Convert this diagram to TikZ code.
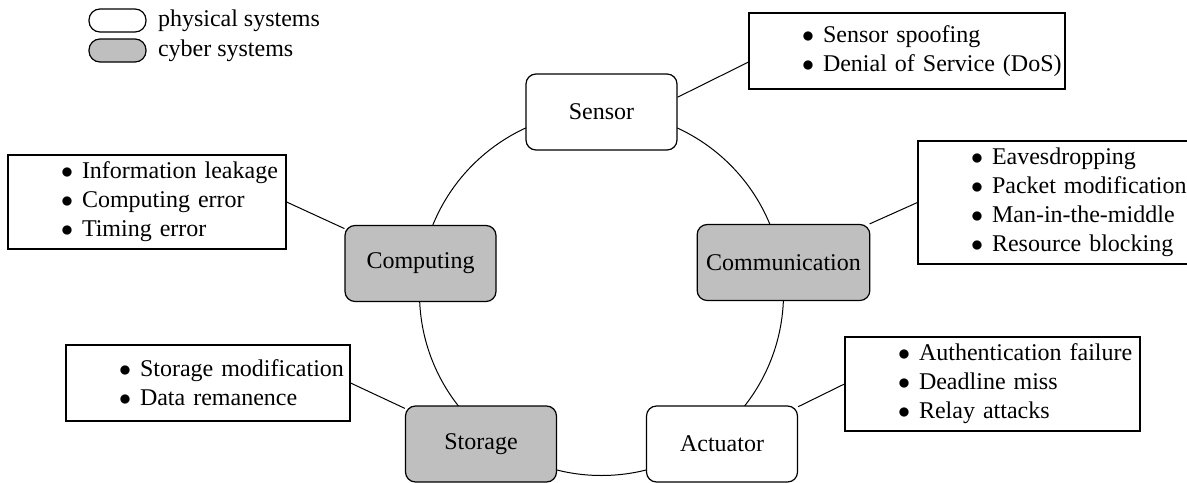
\documentclass[tikz,border=0pt]{standalone}
\usepackage{fontspec}
\setmainfont{Liberation Serif}
\definecolor{cyber}{RGB}{191,191,191}
\tikzset{
  sys/.style={draw, line width=0.6pt, rounded corners=5pt, minimum width=75.5pt,
    minimum height=38pt, inner xsep=4.5pt, font=\fontsize{12}{14.5}\selectfont},
  phys/.style={sys, fill=white},
  cyb/.style={sys, fill=cyber},
  lbox/.style={draw, line width=0.6pt, fill=white, inner xsep=0pt, inner ysep=3.5pt,
    minimum height=38pt, align=left, font=\fontsize{12}{14.5}\selectfont},
  link/.style={line width=0.5pt},
  legendkey/.style={draw, line width=0.6pt, rounded corners=5.5pt, minimum width=28.5pt,
    minimum height=11.5pt, inner sep=0pt},
  legendtext/.style={anchor=west, inner sep=0pt, font=\fontsize{12}{14.5}\selectfont},
}
\newcommand{\itm}[1]{\hspace*{26.5pt}\makebox[10.5pt][l]{$\bullet$}#1}
\begin{document}
\begin{tikzpicture}[x=0.5pt,y=-0.5pt]
\useasboundingbox (0,0) rectangle (1187,482);
% ring
\coordinate (ring) at (601.5,293.5);
\draw[link] (ring) circle[radius=91pt];
% system nodes
\node[phys] (sensor) at (601.5,112) {Sensor};
\node[cyb] (computing) at (420.5,263.5) {Computing};
\node[cyb] (comm) at (783.5,262.5) {Communication};
\node[cyb] (storage) at (481,444) {Storage};
\node[phys] (actuator) at (722,444) {Actuator};
% attack lists
\node[lbox, text width=158pt] (sbox) at (907,51)
  {\itm{Sensor spoofing}\\\itm{Denial of Service (DoS)}};
\node[lbox, text width=139pt] (cbox) at (147,202)
  {\itm{Information leakage}\\\itm{Computing error}\\\itm{Timing error}};
\node[lbox, text width=137pt] (combox) at (1055,202.5)
  {\itm{Eavesdropping}\\\itm{Packet modification}\\\itm{Man-in-the-middle}\\\itm{Resource blocking}};
\node[lbox, text width=142pt] (stbox) at (208,383)
  {\itm{Storage modification}\\\itm{Data remanence}};
\node[lbox, text width=147.5pt] (abox) at (992.5,384)
  {\itm{Authentication failure}\\\itm{Deadline miss}\\\itm{Relay attacks}};
% connectors
\draw[link] (sensor.11) -- (sbox.184);
\draw[link] (cbox.east) -- (computing);
\draw[link] (combox.west) -- (comm);
\draw[link] (stbox.east) -- (storage);
\draw[link] (abox.west) -- (actuator);
% legend
\node[legendkey, fill=white] (lphys) at (117.5,20.5) {};
\node[legendkey, fill=cyber] (lcyb) at (117.5,50.5) {};
\node[legendtext] (tphys) at ([xshift=5.5pt]lphys.east) {physical systems};
\node[legendtext] (tcyb) at ([xshift=5.5pt]lcyb.east) {cyber systems};
\end{tikzpicture}
\end{document}
